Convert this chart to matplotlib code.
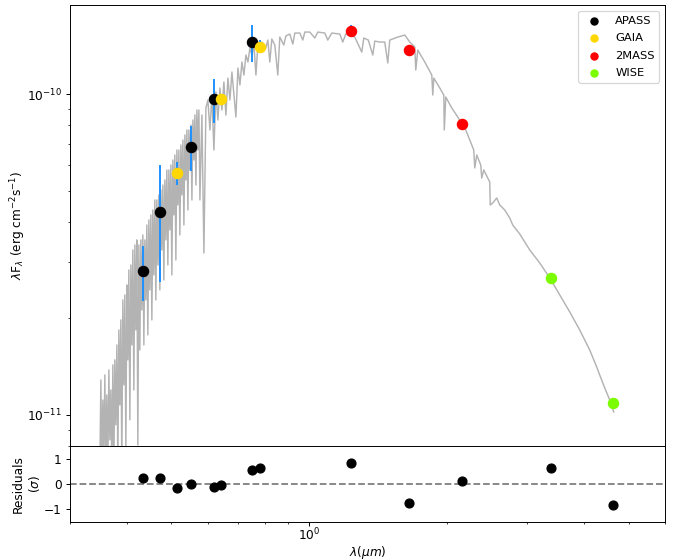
import numpy as np
import matplotlib.pyplot as plt

# model spectrum (wavelength in um, flux in 1e-11 erg/cm2/s)
model_wave = [0.3487, 0.3505, 0.3522, 0.3540, 0.3558, 0.3576, 0.3594, 0.3612, 0.3630, 0.3649,
              0.3667, 0.3686, 0.3704, 0.3723, 0.3742, 0.3760, 0.3779, 0.3799, 0.3818, 0.3837,
              0.3856, 0.3876, 0.3895, 0.3915, 0.3935, 0.3955, 0.3975, 0.3995, 0.4015, 0.4035,
              0.4056, 0.4076, 0.4097, 0.4117, 0.4138, 0.4159, 0.4180, 0.4201, 0.4222, 0.4244,
              0.4265, 0.4287, 0.4308, 0.4330, 0.4352, 0.4374, 0.4396, 0.4418, 0.4440, 0.4463,
              0.4485, 0.4508, 0.4531, 0.4553, 0.4576, 0.4600, 0.4623, 0.4646, 0.4670, 0.4693,
              0.4717, 0.4741, 0.4765, 0.4789, 0.4813, 0.4837, 0.4862, 0.4886, 0.4911, 0.4936,
              0.4961, 0.4986, 0.5011, 0.5036, 0.5062, 0.5087, 0.5113, 0.5139, 0.5165, 0.5191,
              0.5217, 0.5244, 0.5270, 0.5297, 0.5324, 0.5351, 0.5378, 0.5405, 0.5432, 0.5460,
              0.5487, 0.5515, 0.5543, 0.5571, 0.5599, 0.5627, 0.5656, 0.5684, 0.5713, 0.5742,
              0.5771,
              0.5829, 0.5888, 0.5948, 0.6008, 0.6069, 0.6130, 0.6192, 0.6255, 0.6318, 0.6382,
              0.6447, 0.6512, 0.6578, 0.6645, 0.6712, 0.6780, 0.6849, 0.6918, 0.6988, 0.7059,
              0.7130, 0.7202, 0.7275, 0.7349, 0.7423, 0.7498, 0.7574, 0.7651, 0.7728, 0.7806,
              0.7881, 0.8042, 0.8124, 0.8205, 0.8288, 0.8415, 0.8542, 0.8629, 0.8806, 0.8893,
              0.9074, 0.9212, 0.9306, 0.9543, 0.9688, 0.9786, 1.0035, 1.0291, 1.0448, 1.0822,
              1.0987, 1.1210, 1.1670, 1.1848, 1.2028, 1.2273, 1.2586, 1.3037, 1.3169, 1.3471,
              1.3779, 1.3919, 1.4273, 1.4636, 1.4859, 1.5009, 1.5628, 1.6188, 1.6602,
              1.7025, 1.7111, 1.7284, 1.7905, 1.8546, 1.8640, 1.8734, 1.9309, 1.9702, 1.9751,
              1.9901, 2.0512, 2.1142, 2.1572, 2.2010, 2.2458, 2.2909, 2.3025, 2.3258, 2.3731,
              2.3851, 2.4092, 2.4582, 2.4831, 2.4894, 2.5209, 2.5721, 2.6112, 2.6777, 2.7460,
              2.7878, 2.8878, 2.9613, 3.0367, 3.1935, 3.3588, 3.5317, 3.7142, 3.9054, 4.1070,
              4.2543, 4.3191, 4.4293, 4.5424, 4.6347]
model_flux = [0.674, 1.285, 0.674, 1.113, 0.750, 1.332, 0.674, 1.154, 0.674, 1.381,
              0.836, 1.196, 0.674, 1.432, 0.674, 1.484, 0.931, 1.652, 0.674, 1.840,
              1.074, 1.977, 0.674, 2.282, 1.240, 2.365, 0.778, 2.541, 1.484, 2.829,
              0.965, 2.933, 1.652, 3.266, 1.196, 3.385, 1.840, 3.510, 0.806, 3.385,
              1.594, 3.510, 2.124, 3.637, 1.652, 3.510, 2.282, 3.907, 1.775, 4.051,
              2.452, 4.200, 1.977, 4.352, 2.729, 4.676, 2.282, 4.676, 2.933, 4.847,
              2.452, 5.022, 3.266, 5.206, 2.633, 5.397, 3.510, 5.799, 2.933, 5.799,
              3.770, 6.009, 2.729, 6.229, 4.200, 6.457, 3.040, 6.692, 4.511, 6.692,
              3.637, 6.937, 4.847, 7.190, 3.907, 7.452, 5.397, 7.725, 4.352, 7.725,
              5.799, 8.006, 4.676, 8.299, 6.229, 8.603, 5.206, 8.917, 6.692, 8.917,
              4.676,
              8.603, 3.196, 9.046, 9.579, 7.725, 9.929, 6.692, 10.15, 8.299, 10.44,
              8.917, 10.90, 8.603, 11.21, 9.579, 11.71, 9.929, 8.479, 12.05, 10.67,
              12.58, 11.46, 13.23, 12.58, 13.91, 13.23, 14.21, 11.46, 14.31, 13.71,
              14.52, 13.91, 14.73, 12.58, 14.84, 14.21, 11.46, 15.05, 14.21, 15.16,
              15.38, 14.31, 15.49, 15.49, 14.73, 15.60, 15.60, 14.95, 15.60, 15.49,
              14.73, 15.49, 15.38, 14.52, 15.38, 15.27, 15.05, 13.51, 14.95, 14.73,
              13.23, 14.62, 14.52, 14.52, 12.50, 14.73, 15.05, 15.27, 14.52,
              14.01, 11.88, 13.71, 12.58, 11.46, 9.929, 11.21, 10.44, 9.929, 7.725,
              9.788, 9.046, 8.479, 8.063, 7.725, 7.190, 6.692, 5.883, 6.457, 6.009,
              5.475, 5.799, 5.475, 5.318, 4.511, 4.576, 4.742, 4.511, 4.351, 4.109,
              3.907, 3.663, 3.459, 3.266, 2.975, 2.672, 2.365, 2.094, 1.840, 1.594,
              1.411, 1.332, 1.214, 1.113, 1.022]

# photometry (um, 1e-11 erg/cm2/s) and residuals in sigma
apass_wave = [0.4330, 0.4716, 0.5506, 0.6180, 0.7495]
apass_flux = [2.809, 4.290, 6.852, 9.627, 14.52]
apass_err = [0.55, 1.70, 1.10, 1.50, 1.90]
apass_res = [0.25, 0.25, 0.0, -0.13, 0.54]

gaia_wave = [0.5131, 0.6420, 0.7802]
gaia_flux = [5.674, 9.63, 14.04]
gaia_err = [0.45, 0.10, 0.66]
gaia_res = [-0.15, -0.03, 0.63]

tmass_wave = [1.2378, 1.6495, 2.1643]
tmass_flux = [15.75, 13.74, 8.063]
tmass_err = [0.65, 0.30, 0.20]
tmass_res = [0.84, -0.74, 0.12]

wise_wave = [3.385, 4.627]
wise_flux = [2.666, 1.092]
wise_err = [0.05, 0.03]
wise_res = [0.63, -0.83]

surveys = [('APASS', apass_wave, apass_flux, apass_err, apass_res, 'black'),
           ('GAIA', gaia_wave, gaia_flux, gaia_err, gaia_res, 'gold'),
           ('2MASS', tmass_wave, tmass_flux, tmass_err, tmass_res, 'red'),
           ('WISE', wise_wave, wise_flux, wise_err, wise_res, 'lawngreen')]

dpi = 87
fig = plt.figure(figsize=(678 / dpi, 560 / dpi), dpi=dpi)
ax = fig.add_axes([0.1032, 0.2036, 0.8776, 0.7869])
axr = fig.add_axes([0.1032, 0.0684, 0.8776, 0.1352], sharex=ax)

ax.plot(model_wave, np.array(model_flux) * 1e-11, color='0.7', lw=1.2, zorder=1)
for name, w, f, e, r, c in surveys:
    ax.errorbar(w, np.array(f) * 1e-11, yerr=np.array(e) * 1e-11, fmt='none',
                ecolor='dodgerblue', elinewidth=1.6, zorder=2)
    ax.scatter(w, np.array(f) * 1e-11, s=72, color=c, label=name, zorder=3)
    axr.scatter(w, r, s=55, color='black', zorder=3)

ax.set_xscale('log')
ax.set_yscale('log')
ax.set_xlim(0.3, 6)
ax.set_ylim(8e-12, 1.89e-10)
ax.tick_params(labelbottom=False)
ax.set_ylabel(r'$\lambda$F$_\lambda$ (erg cm$^{-2}$s$^{-1}$)', labelpad=-1)
ax.legend(loc='upper right', markerscale=0.7, fontsize=9.5, labelspacing=0.65)

axr.axhline(0, color='gray', ls='--', lw=1.5, zorder=1)
axr.set_ylim(-1.5, 1.5)
axr.set_yticks([-1, 0, 1])
axr.tick_params(axis='x', pad=0.5)
axr.set_ylabel('Residuals\n' + r'($\sigma$)', labelpad=1.5)
axr.set_xlabel(r'$\lambda (\mu m)$', labelpad=1)

fig.savefig('out.png', dpi=dpi)
